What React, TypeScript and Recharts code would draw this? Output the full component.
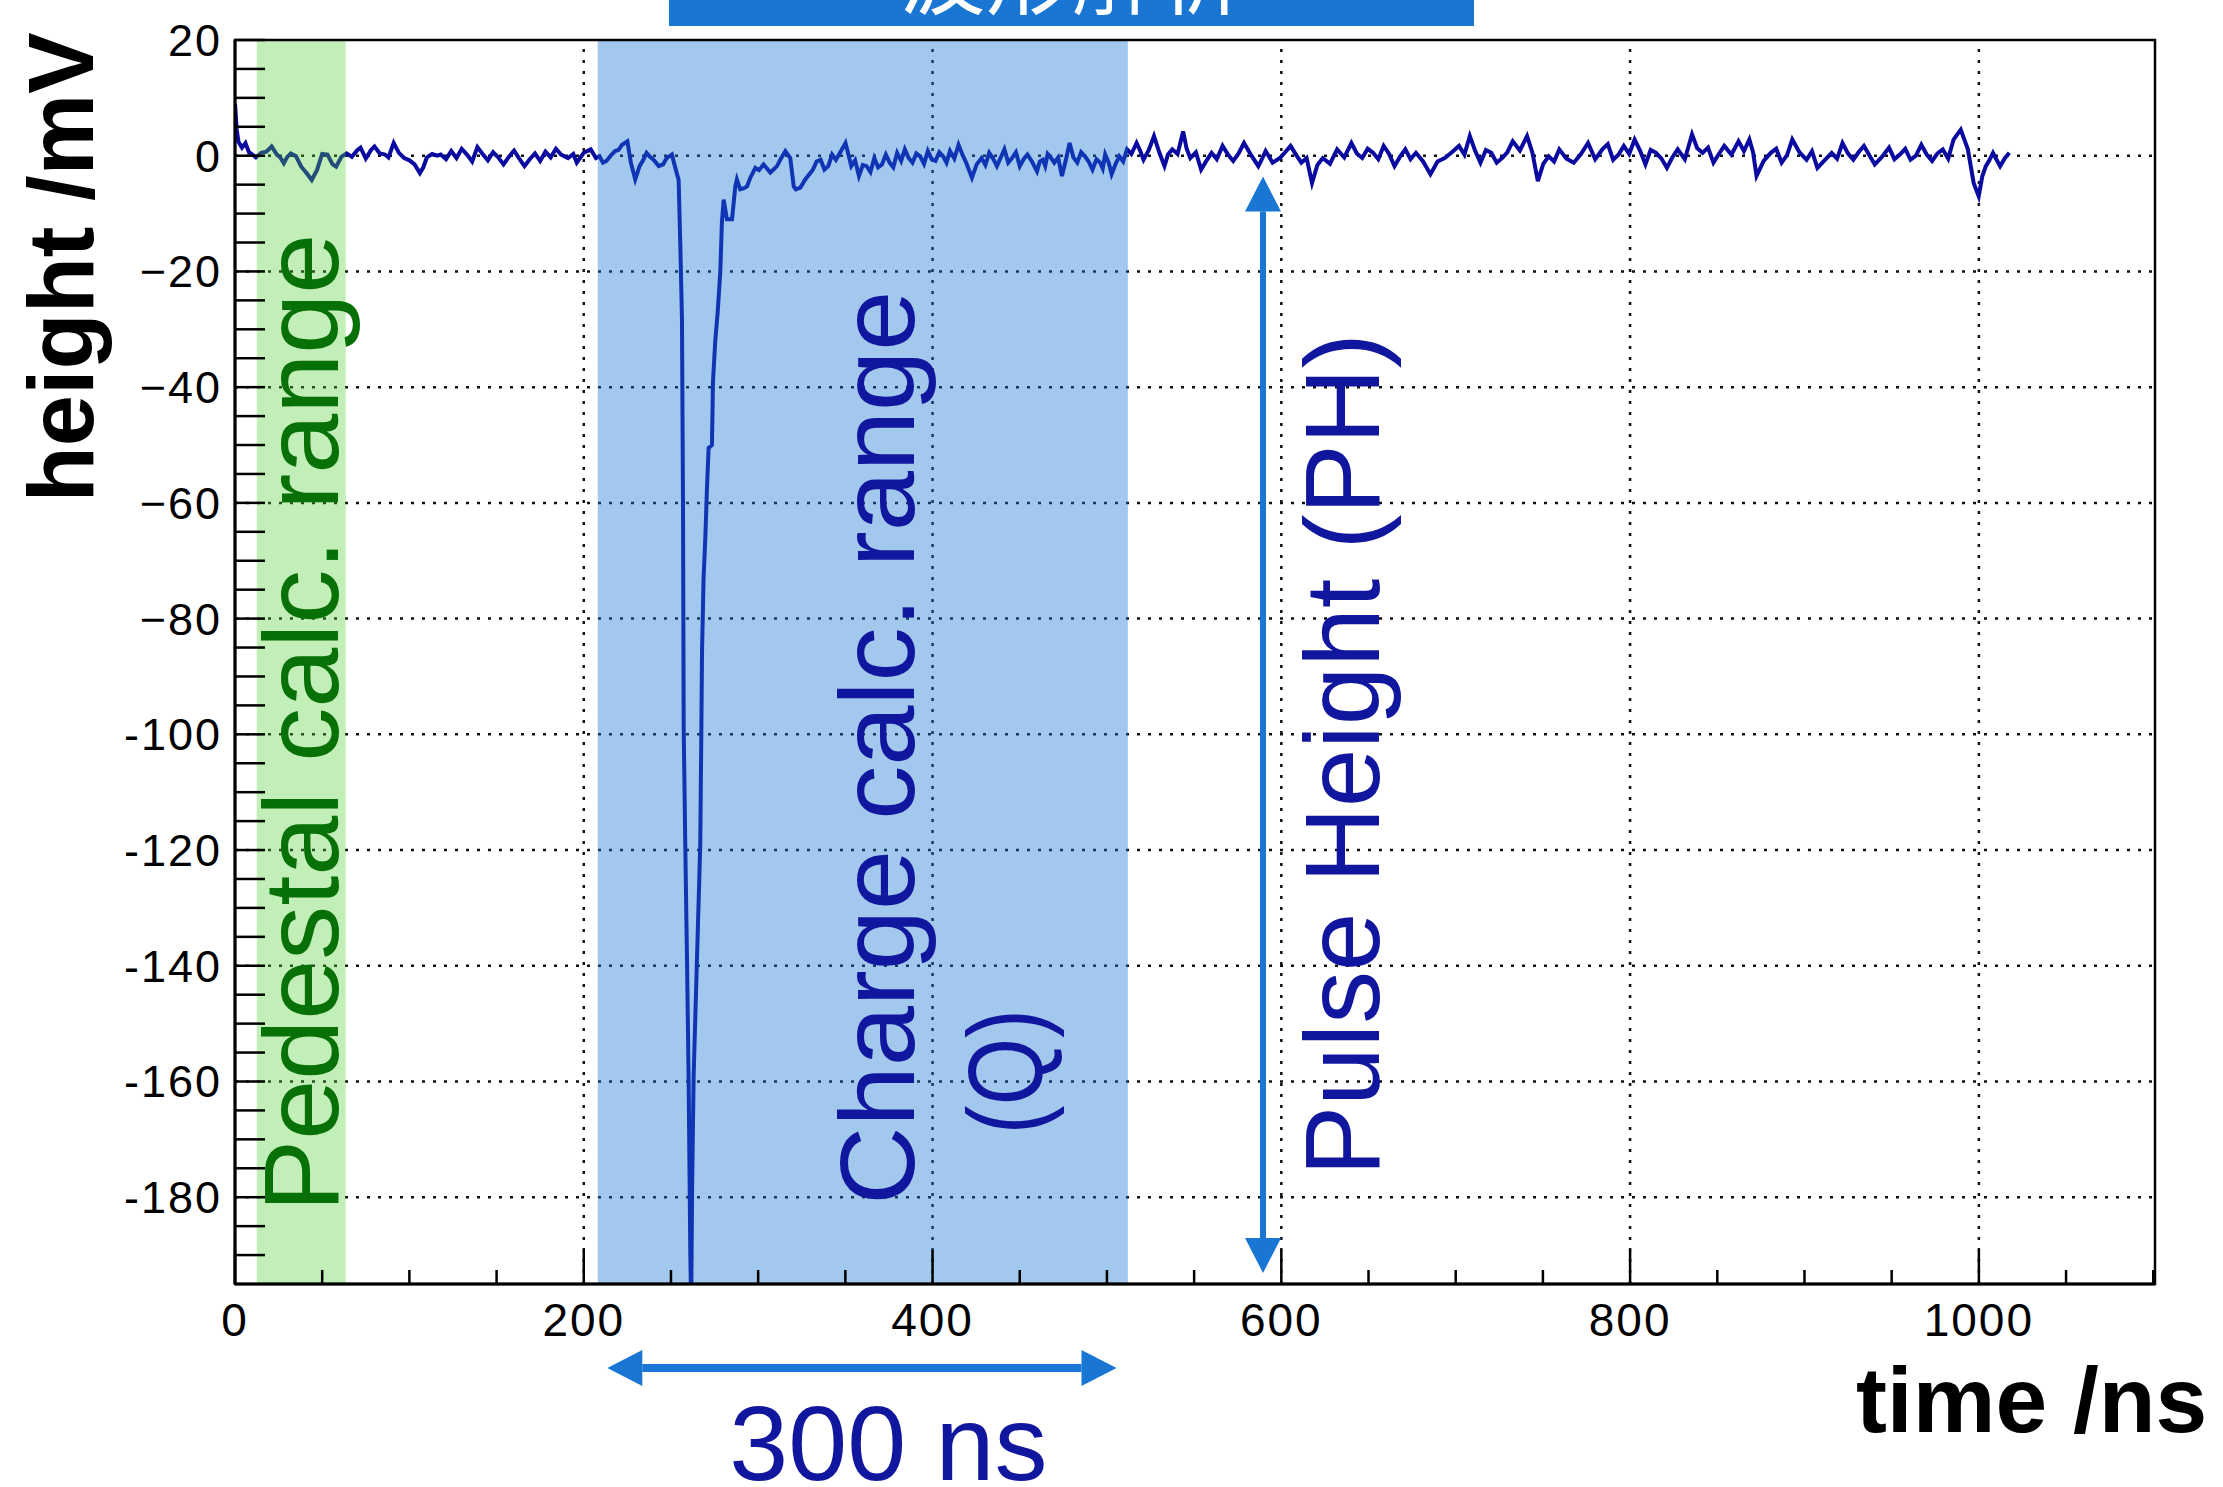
import { LineChart, Line, XAxis, YAxis, ReferenceArea, ReferenceLine, ReferenceDot } from "recharts";

// waveform readings, [time ns, height mV]
const PEDESTAL_WAVE = [
  [0, 9.0], [1, 4.5], [2, 2.4], [4, 1.4], [6, 2.2], [8, 0.6], [10, 0.2], [12, -0.3], [15, 0.5], [18, 0.7],
  [21, 1.6], [24, 0.2], [26, -0.3], [28, -1.3], [30, -0.2], [32, 0.4], [35, -0.1], [38, -1.9], [41, -3.0],
  [44, -4.2], [47, -2.5], [50, 0.3], [53, 0.2], [56, -1.5], [58, -1.9], [61, -0.2], [64, 0.4],
];
const PRE_PULSE_WAVE = [
  [67, -0.2], [70, 0.9], [72, 1.4], [75, -0.5], [78, 1.0], [80, 1.6], [83, 0.4], [86, 0.2], [88, -0.3],
  [91, 2.2], [94, 0.5], [97, -0.4], [100, -0.8], [103, -1.5], [106, -3.0], [108, -2.0], [110, -0.3],
  [113, 0.3], [116, 0.0], [118, 0.2], [121, -0.6], [124, 0.8], [127, -0.4], [130, 1.2], [133, 0.2],
  [136, -1.0], [139, 1.5], [142, 0.3], [145, -0.8], [148, 0.6], [151, -0.3], [154, -1.5], [157, -0.2],
  [160, 0.9], [163, -0.5], [166, -1.8], [169, -0.6], [172, 0.4], [175, -0.9], [178, 0.7], [181, -0.3],
  [184, 1.2], [187, 0.2], [191, -0.4], [194, 0.3], [196, -1.2], [200, 0.5], [204, 1.1], [207, -0.4],
];
const PULSE_WAVE = [
  [209, -0.1], [211, -1.2], [213, -0.9], [216, 0.2], [218, 0.8], [220, 1.0], [222, 1.9], [225, 2.5],
  [227, -1.2], [229.5, -4.1], [232, -1.8], [234, -0.8], [236, 0.5], [238, -0.2], [240, -0.7], [243, -1.8],
  [245.5, -1.5], [247.5, -0.4], [250.5, 0.2], [252.5, -2.1], [254.4, -4.2], [255.4, -16], [256.3, -28],
  [256.9, -60], [257.3, -99], [258.2, -119], [259.2, -139], [260.1, -159], [261.1, -190], [261.6, -199],
  [262.1, -179], [263, -159], [264.9, -139], [266.8, -119], [267.4, -100], [267.8, -86], [268.7, -73],
  [269.7, -66], [270.7, -57], [271.6, -50.5], [273.5, -50], [274.1, -39], [275.4, -32], [276.8, -27],
  [278.3, -20], [279.2, -11.6], [280.2, -7.6], [282.1, -11], [285, -11], [286.9, -5.3], [287.8, -4.1],
  [289.7, -5.8], [291.9, -5.6], [293.6, -5.3], [295.5, -3.8], [298.4, -2.1],
];
const TAIL_WAVE = [
  [300.5, -2.5], [303.1, -1.5], [307, -2.9], [310.8, -1.8], [313, -0.5], [315.6, 0.8], [318.4, -0.4],
  [320.4, -5.3], [321.6, -5.8], [324.2, -5.5], [327, -4.1], [331.4, -2.4], [333.5, -1.0], [335.8, -0.7],
  [338, -2.4], [340.2, -1.8], [342.4, 0.2], [344.6, -0.7], [347.5, 0.8], [350.1, 2.2], [351.7, 0.3],
  [353.4, -1.8], [355.6, -0.8], [357.8, -3.5], [360, -1.6], [362.2, -1.8], [364.4, -2.8], [366.6, -0.4],
  [368.8, -2.0], [371, -1.5], [373.2, 0.2], [375.4, -1.2], [377.5, -2.0], [379.7, 0.5], [382, -0.9],
  [384.1, 1.1], [386.3, -0.4], [388.5, -1.2], [390.7, 0.4], [392.9, -0.1], [395.1, -1.4], [397.3, 0.8],
  [399.5, -0.6], [401.7, -0.9], [403.9, 0.6], [406.1, -0.1], [408, -1.2], [410, 0.8], [412.5, -0.5],
  [414.9, 1.9], [417, 0.3], [419.3, -1.2], [422.6, -3.8], [425.3, -1.5], [428.1, -0.4], [430.3, -1.6],
  [432.5, 0.5], [434.7, -0.5], [436.9, -1.8], [439, -0.4], [441.2, 1.1], [443.4, -1.2], [445.6, -0.4],
  [447.8, 0.6], [450, -1.8], [452.2, -0.6], [454.4, 0.2], [457, -1.0], [459.9, -2.7], [461.5, -1.0],
  [463.2, -0.7], [464.6, -1.8], [466, 0.3], [468, -0.4], [469.8, -1.2], [472, -0.3], [474.2, -3.5],
  [476.4, -0.8], [478.6, 2.2], [480.8, -0.3], [483, -1.2], [485.2, 0.6], [487.4, -0.1], [489.5, -1.0],
  [491.7, -2.4], [494, -0.6], [496.1, -1.2], [497.6, -2.2], [499, 0.2], [501, -1.2], [502.7, -3.2],
  [505, -1.4], [507.1, -0.1], [509.3, -1.0], [511.5, 1.1], [514, 0.3],
];
const LATE_WAVE = [
  [517, 2.2], [519, 0.9], [521, -0.7], [524, 1.0], [527, 3.4], [530, 0.6], [533, -1.8], [535, 0.2],
  [537.5, 1.1], [540.5, 0.3], [543.7, 4.2], [545.7, 1.2], [547.8, -0.4], [551, 0.6], [554, -2.4],
  [557, -0.9], [560, 0.5], [563, -0.6], [566.3, 1.7], [569.4, 0.2], [572.4, -0.9], [575.5, 0.4],
  [578.6, 2.2], [582.7, 0.1], [586.8, -1.8], [589, -0.5], [591, 0.8], [595, -1.2], [599.2, -0.4],
  [602.2, 0.6], [605.3, 1.7], [608.4, 0.2], [611.5, -1.2], [614.5, -0.4], [617.6, -4.7], [620.7, -1.6],
  [623.8, -0.4], [627.9, -1.4], [632, 1.1], [636.1, -0.3], [640.2, 2.2], [643.3, 0.4], [646.4, -0.4],
  [649.5, 1.2], [652.6, 0.5], [655.6, -0.6], [658.7, 1.7], [661.8, 0.3], [664.9, -1.8], [668, -0.2],
  [671.1, 1.1], [674.1, -0.6], [677.2, 0.5], [681.3, -1.0], [685.5, -3.2], [689.6, -1.0], [693.7, -0.4],
  [697.8, 0.6], [701.9, 1.7], [705, 0.2], [708.1, 3.4], [711.2, 0.8], [714.2, -1.2], [717.3, 1.0],
  [720.4, 0.5], [723.5, -1.2], [726.6, -0.4], [729.6, 0.6], [732.7, 2.5], [736.8, 0.9], [740.9, 3.4],
  [744, 0.5], [747.1, -4.4], [750.2, -1.4], [753.3, -0.1], [756.4, -1.0], [759.4, 1.1], [763.5, -0.5],
  [767.7, -1.2], [771.8, 0.3], [775.9, 2.2], [780, -0.6], [784.1, 1.1], [787.2, 2.0], [790.3, -0.7],
  [793.4, 0.2], [796.4, 1.7], [799.5, 0.3], [802.6, 2.8], [805.7, 0.9], [808.8, -1.5], [811.8, 1.0],
  [814.9, 0.5], [818, -0.5], [821.1, -2.1], [824.2, -0.3], [827.3, 1.1], [831.4, -0.6], [835.5, 3.7],
  [838.5, 1.3], [841.6, 0.5], [844.7, 1.4], [847.8, -1.2], [850.9, 0.3], [854, 1.7], [858.1, 0.2],
  [862.2, 2.5], [865.3, 0.8], [868.4, 2.8], [870.5, 0.6], [872.5, -3.5], [876.6, -0.9], [880.7, 0.5],
  [883.8, 1.2], [886.9, -1.2], [890, 0.1], [893, 2.8], [897.1, 0.6], [901.2, -0.7], [904.3, 0.8],
  [907.4, -2.1], [911.5, -0.8], [915.6, 0.5], [918.7, -0.5], [921.8, 2.2], [924.9, 0.4], [928, -0.7],
  [931, 0.6], [934.1, 1.7], [937.2, 0.1], [940.3, -1.5], [944.4, -0.2], [948.5, 1.4], [951.6, -0.6],
  [954.7, 0.2], [957.8, 1.2], [960.8, -0.7], [963.9, 0.0], [967, 1.9], [970.1, 0.2], [973.2, -0.9],
  [976.3, 0.4], [979.3, 1.1], [982.4, -0.5], [985.5, 2.8], [989.6, 4.5], [993.7, 1.1], [997, -4.7],
  [999.9, -7.0], [1002, -3.5], [1004, -1.8], [1006, -0.8], [1008.1, 0.5], [1010, -0.6], [1012.2, -1.8],
  [1015, -0.4], [1017.5, 0.5],
];

const X_DOMAIN = [0, 1101];
const Y_DOMAIN = [-195, 20];
const X_MAJOR = [0, 200, 400, 600, 800, 1000];
const X_LABELS = ["0", "200", "400", "600", "800", "1000"];
const X_MINOR_STEP = 50;
const Y_MAJOR = [20, 0, -20, -40, -60, -80, -100, -120, -140, -160, -180];
const Y_LABELS = ["20", "0", "\u221220", "\u221240", "\u221260", "\u221280", "-100", "-120", "-140", "-160", "-180"];
const Y_MINOR_STEP = 5;

const PEDESTAL_RANGE = [12.5, 63.5];
const CHARGE_RANGE = [208, 512];

const BLUE = "#1976d2";
const NAVY = "#11169e";
const FONT = "'Liberation Sans', Arial, sans-serif";

const data = [...PEDESTAL_WAVE, ...PRE_PULSE_WAVE, ...PULSE_WAVE, ...TAIL_WAVE, ...LATE_WAVE].map(([t, v]) => ({ t, v }));

const xTicks: number[] = [];
for (let t = X_DOMAIN[0]; t <= 1100; t += X_MINOR_STEP) xTicks.push(t);
const yTicks: number[] = [];
for (let v = Y_DOMAIN[1]; v > Y_DOMAIN[0]; v -= Y_MINOR_STEP) yTicks.push(v);

function XTick(p: any) {
  const v = p.payload.value;
  const i = X_MAJOR.indexOf(v);
  return (
    <g>
      <line x1={p.x} x2={p.x} y1={p.y} y2={p.y - (i >= 0 ? 34 : 14)} stroke="#000" strokeWidth={2.5} />
      {i >= 0 && (
        <text x={p.x} y={p.y + 52} textAnchor="middle" fontSize={46} letterSpacing={2} fontFamily={FONT} fill="#000">
          {X_LABELS[i]}
        </text>
      )}
    </g>
  );
}

function YTick(p: any) {
  const v = p.payload.value;
  const i = Y_MAJOR.indexOf(v);
  return (
    <g>
      <line x1={p.x} x2={p.x + 30} y1={p.y} y2={p.y} stroke="#000" strokeWidth={2.5} />
      {i >= 0 && (
        <text x={p.x - 13} y={p.y + 16} textAnchor="end" fontSize={45} letterSpacing={2} fontFamily={FONT} fill="#000">
          {Y_LABELS[i]}
        </text>
      )}
    </g>
  );
}

const rotated = (text: string, color: string, size: number, len: number, weight = "normal") => (p: any) => (
  <text
    x={p.cx}
    y={p.cy}
    transform={`rotate(-90 ${p.cx} ${p.cy})`}
    textAnchor="middle"
    fontSize={size}
    fontWeight={weight}
    fontFamily={FONT}
    fill={color}
    textLength={len}
    lengthAdjust="spacingAndGlyphs"
  >
    {text}
  </text>
);

const flat = (text: string, color: string, size: number, anchor = "middle", weight = "normal") => (p: any) => (
  <text x={p.cx} y={p.cy} textAnchor={anchor} fontSize={size} fontWeight={weight} fontFamily={FONT} fill={color}>
    {text}
  </text>
);

function DoubleArrow(p: any) {
  const { x1, y1, x2, y2 } = p;
  const len = Math.hypot(x2 - x1, y2 - y1) || 1;
  const ux = (x2 - x1) / len;
  const uy = (y2 - y1) / len;
  const nx = -uy;
  const ny = ux;
  const H = 35;
  const W = 18;
  const ax = x1 + ux * H, ay = y1 + uy * H;
  const bx = x2 - ux * H, by = y2 - uy * H;
  return (
    <g>
      <line x1={ax} y1={ay} x2={bx} y2={by} stroke={BLUE} strokeWidth={p.w} />
      <polygon points={`${x1},${y1} ${ax + nx * W},${ay + ny * W} ${ax - nx * W},${ay - ny * W}`} fill={BLUE} />
      <polygon points={`${x2},${y2} ${bx + nx * W},${by + ny * W} ${bx - nx * W},${by - ny * W}`} fill={BLUE} />
    </g>
  );
}

export default function App() {
  return (
    <div style={{ position: "absolute", left: 0, top: 0, width: 2223, height: 1487, background: "#fff", overflow: "hidden" }}>
      <div
        style={{
          position: "absolute", left: 669, top: 0, width: 805, height: 26, background: BLUE, overflow: "hidden",
        }}
      >
        <div
          style={{
            position: "absolute", left: 0, right: 0, top: -72, textAlign: "center", color: "#fff",
            fontSize: 86, lineHeight: "86px", fontFamily: "'Noto Sans CJK JP', sans-serif",
          }}
        >
          波形解析
        </div>
      </div>
      <LineChart width={2223} height={1487} data={data} margin={{ top: 40, right: 68, bottom: 0, left: 0 }}>
        <XAxis
          dataKey="t"
          type="number"
          domain={X_DOMAIN}
          ticks={xTicks}
          interval={0}
          tickSize={0}
          tickMargin={0}
          tick={XTick}
          height={203}
          axisLine={{ stroke: "#000", strokeWidth: 3 }}
          allowDataOverflow
        />
        <YAxis
          type="number"
          domain={Y_DOMAIN}
          ticks={yTicks}
          interval={0}
          tickSize={0}
          tickMargin={0}
          tick={YTick}
          width={235}
          axisLine={{ stroke: "#000", strokeWidth: 3 }}
          allowDataOverflow
        />
        {Y_MAJOR.slice(1).map((v) => (
          <ReferenceLine key={`gy${v}`} y={v} stroke="#111" strokeWidth={2.5} strokeDasharray="3 8" />
        ))}
        {X_MAJOR.slice(1).map((t) => (
          <ReferenceLine key={`gx${t}`} x={t} stroke="#111" strokeWidth={2.5} strokeDasharray="3 8" />
        ))}
        <Line type="linear" dataKey="v" stroke="#0a0aa0" strokeWidth={4} dot={false} isAnimationActive={false} />
        <ReferenceArea x1={PEDESTAL_RANGE[0]} x2={PEDESTAL_RANGE[1]} fill="#4fcf30" fillOpacity={0.35} stroke="none" zIndex={450} />
        <ReferenceArea x1={CHARGE_RANGE[0]} x2={CHARGE_RANGE[1]} fill={BLUE} fillOpacity={0.4} stroke="none" zIndex={450} />
        <ReferenceArea x1={X_DOMAIN[0]} x2={X_DOMAIN[1]} y1={Y_DOMAIN[0]} y2={Y_DOMAIN[1]} fill="none" stroke="#000" strokeWidth={2.5} zIndex={460} />

        <ReferenceLine
          segment={[{ x: 589.5, y: -3.6 }, { x: 589.5, y: -193.1 }]}
          ifOverflow="visible"
          zIndex={700}
          shape={(p: any) => <DoubleArrow {...p} w={6} />}
        />
        <ReferenceLine
          segment={[{ x: 213.5, y: -209.5 }, { x: 505.5, y: -209.5 }]}
          ifOverflow="visible"
          zIndex={700}
          shape={(p: any) => <DoubleArrow {...p} w={8} />}
        />

        <ReferenceDot x={59.1} y={-98} ifOverflow="visible" zIndex={700} shape={rotated("Pedestal calc. range", "#077007", 106, 978)} />
        <ReferenceDot x={389.1} y={-102.3} ifOverflow="visible" zIndex={700} shape={rotated("Charge calc. range", NAVY, 106, 914)} />
        <ReferenceDot x={462.5} y={-158.3} ifOverflow="visible" zIndex={700} shape={rotated("(Q)", NAVY, 106, 125)} />
        <ReferenceDot x={655.9} y={-103.5} ifOverflow="visible" zIndex={700} shape={rotated("Pulse Height (PH)", NAVY, 106, 843)} />
        <ReferenceDot x={374.7} y={-228.8} ifOverflow="visible" zIndex={700} shape={flat("300 ns", NAVY, 106)} />

        <ReferenceDot x={-81.5} y={-19.3} ifOverflow="visible" zIndex={700} shape={rotated("height /mV", "#000", 92, 470, "bold")} />
        <ReferenceDot x={1131} y={-220.6} ifOverflow="visible" zIndex={700} shape={flat("time /ns", "#000", 93, "end", "bold")} />
      </LineChart>
    </div>
  );
}
